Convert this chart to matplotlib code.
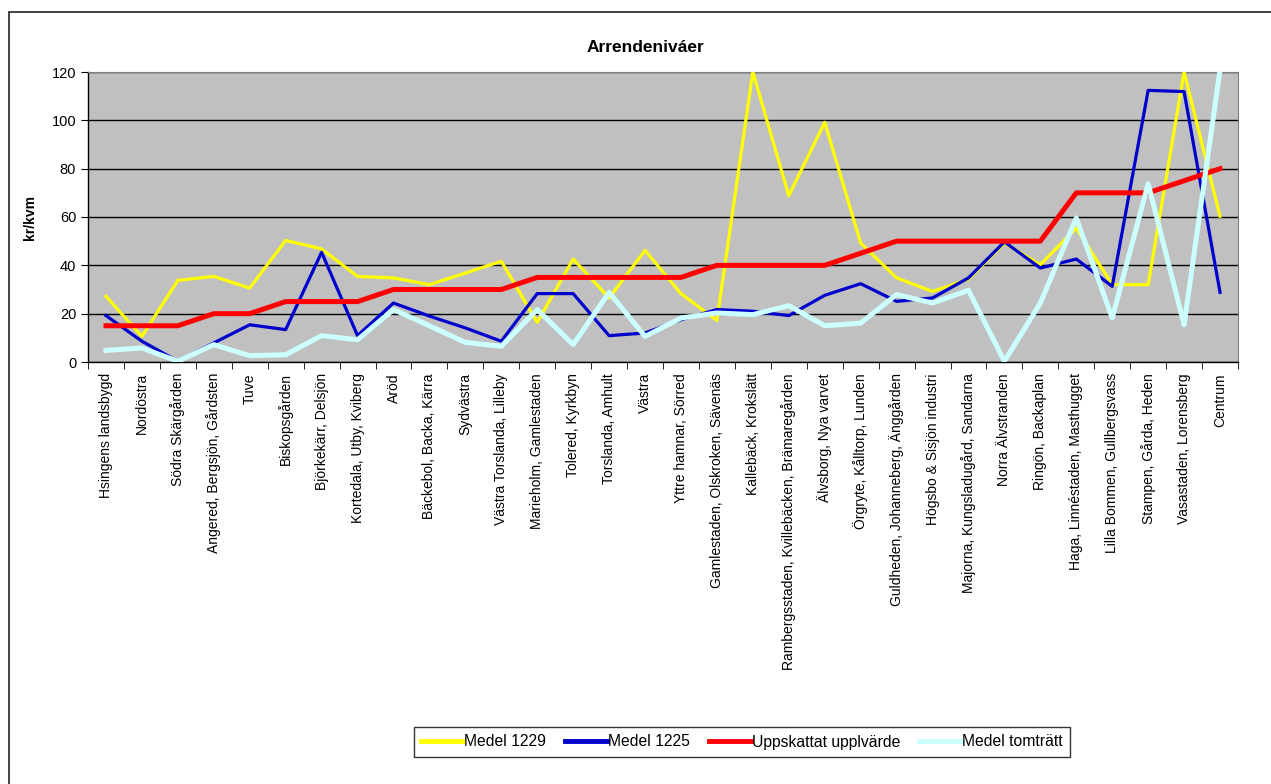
import matplotlib
matplotlib.use("Agg")
import matplotlib.pyplot as plt
from matplotlib.patches import Rectangle
import numpy as np

plt.rcParams['font.family'] = ['Liberation Sans', 'DejaVu Sans']

# ── Data ───────────────────────────────────────────────────────────────
areas = [
    "Hsingens landsbygd", "Nordöstra", "Södra Skärgården",
    "Angered, Bergsjön, Gårdsten", "Tuve", "Biskopsgården",
    "Björkekärr, Delsjön", "Kortedala, Utby, Kviberg", "Aröd",
    "Bäckebol, Backa, Kärra", "Sydvästra", "Västra Torslanda, Lilleby",
    "Marieholm, Gamlestaden", "Tolered, Kyrkbyn", "Torslanda, Amhult",
    "Västra", "Yttre hamnar, Sörred", "Gamlestaden, Olskroken, Sävenäs",
    "Kallebäck, Krokslätt", "Rambergsstaden, Kvillebäcken, Brämaregården",
    "Älvsborg, Nya varvet", "Örgryte, Kålltorp, Lunden",
    "Guldheden, Johanneberg, Änggården", "Högsbo & Sisjön industri",
    "Majorna, Kungsladugård, Sandarna", "Norra Älvstranden",
    "Ringön, Backaplan", "Haga, Linnéstaden, Masthugget",
    "Lilla Bommen, Gullbergsvass", "Stampen, Gårda, Heden",
    "Vasastaden, Lorensberg", "Centrum",
]

medel_1229 = [27.2, 10.6, 33.8, 35.4, 30.6, 50.3, 46.8, 35.4, 34.8, 32.0,
              36.8, 41.7, 16.4, 42.6, 26.5, 46.2, 28.3, 17.2, 120.0, 68.8,
              99.2, 49.2, 34.8, 29.2, 34.3, 49.2, 40.3, 55.4, 32.0, 32.0,
              120.0, 60.3]
medel_1225 = [19.2, 8.6, 0.3, 7.9, 15.4, 13.4, 45.4, 10.9, 24.4, 19.0,
              14.1, 8.6, 28.3, 28.3, 10.9, 12.0, 17.5, 21.7, 21.0, 19.2,
              27.6, 32.4, 25.1, 26.5, 34.8, 49.7, 38.9, 42.6, 31.3, 112.4,
              111.9, 28.8]
uppskattat = [15, 15, 15, 20, 20, 25, 25, 25, 30, 30, 30, 30, 35, 35, 35,
              35, 35, 40, 40, 40, 40, 45, 50, 50, 50, 50, 50, 70, 70, 70,
              75, 80]
tomtratt = [4.8, 5.8, 0.3, 7.2, 2.6, 3.0, 10.9, 9.2, 21.7, 15.0, 8.1, 6.5,
            21.7, 7.2, 28.8, 10.6, 18.2, 20.3, 19.6, 23.3, 15.0, 16.1, 27.9,
            24.4, 29.7, 0.3, 24.4, 59.6, 18.2, 73.8, 15.4, 121.0]

# ── Plot ───────────────────────────────────────────────────────────────
fig = plt.figure(figsize=(12.71, 7.84), dpi=100)
ax = fig.add_axes([88 / 1271, 1 - 362 / 784, 1150 / 1271, 290 / 784])
ax.set_facecolor('#c0c0c0')

x = np.arange(len(areas))
ax.plot(x, medel_1229, color='#ffff00', lw=2.3, label='Medel 1229', zorder=3)
ax.plot(x, medel_1225, color='#0000cc', lw=2.3, label='Medel 1225', zorder=4)
ax.plot(x, uppskattat, color='#ff0000', lw=3.6, label='Uppskattat upplvärde', zorder=5)
ax.plot(x, tomtratt, color='#ccffff', lw=3.6, label='Medel tomträtt', zorder=6)

ax.set_xlim(-0.5, len(areas) - 0.5)
ax.set_ylim(0, 120)
ax.set_yticks(np.arange(0, 121, 20))
ax.yaxis.grid(True, color='black', lw=1.0)
ax.set_axisbelow(True)

ax.set_xticks(x)
ax.set_xticklabels(areas, rotation=90, fontsize=10)
ax.set_xticks(np.arange(-0.5, len(areas), 1), minor=True)
ax.tick_params(axis='x', which='major', length=0, pad=8)
ax.tick_params(axis='x', which='minor', length=5, direction='out', color='black')
ax.tick_params(axis='y', length=5, direction='out', labelsize=10.5, color='black')

for side in ('left', 'bottom'):
    ax.spines[side].set_color('black')
    ax.spines[side].set_linewidth(1.0)
for side in ('top', 'right'):
    ax.spines[side].set_color('#808080')
    ax.spines[side].set_linewidth(0.8)

fig.text(645 / 1271, 1 - 48 / 784, 'Arrendeniváer', ha='center', va='center',
         fontsize=12.5, fontweight='bold')
fig.text(30 / 1271, 1 - 217 / 784, 'kr/kvm', ha='center', va='center',
         rotation=90, fontsize=10, fontweight='bold')

leg = fig.legend(loc='center', bbox_to_anchor=(742 / 1271, 1 - 742 / 784),
                 ncol=4, fontsize=11.3, frameon=True, fancybox=False,
                 handlelength=2.7, handletextpad=0.05, columnspacing=1.2,
                 borderpad=0.45)
leg.get_frame().set_edgecolor('black')
leg.get_frame().set_linewidth(1.0)
for line in leg.get_lines():
    line.set_linewidth(3.5)

# outer chart border (right/bottom run off the page)
fig.patches.append(Rectangle((9 / 1271, -0.1), 1.2, 1 - 12 / 784 + 0.1,
                             transform=fig.transFigure, fill=False,
                             edgecolor='#333333', lw=1.3))

fig.savefig('out.png', dpi=100)
